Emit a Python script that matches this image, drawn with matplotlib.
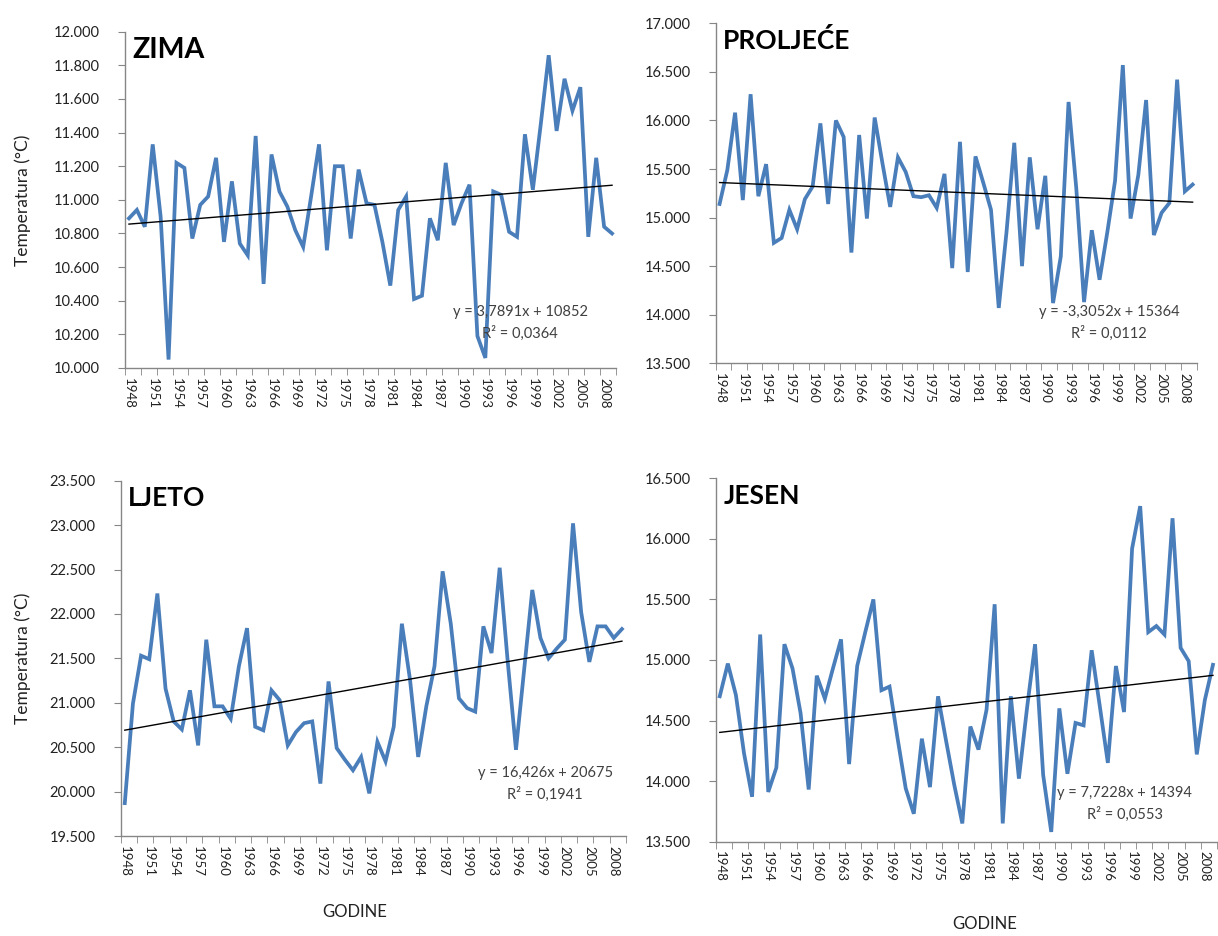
import numpy as np
import matplotlib
matplotlib.use("Agg")
import matplotlib.pyplot as plt
from matplotlib.ticker import FixedLocator, FuncFormatter

plt.rcParams['font.family'] = ['Lato', 'DejaVu Sans']

# ── data (seasonal mean temperature, °C) ─────────────────────────────────────
years = list(range(1948, 2010))

zima = [10.89, 10.94, 10.84, 11.33, 10.90, 10.05, 11.22, 11.19, 10.77, 10.97,
        11.02, 11.25, 10.75, 11.11, 10.74, 10.67, 11.38, 10.50, 11.27, 11.05,
        10.96, 10.82, 10.72, 11.02, 11.33, 10.70, 11.20, 11.20, 10.77, 11.18,
        10.98, 10.97, 10.75, 10.49, 10.94, 11.02, 10.41, 10.43, 10.89, 10.76,
        11.22, 10.85, 10.98, 11.09, 10.19, 10.06, 11.05, 11.03, 10.81, 10.78,
        11.39, 11.06, 11.45, 11.86, 11.41, 11.72, 11.53, 11.67, 10.78, 11.25,
        10.84, 10.80]

proljece = [15.14, 15.49, 16.08, 15.18, 16.27, 15.22, 15.55, 14.74, 14.79, 15.08,
            14.88, 15.19, 15.32, 15.97, 15.14, 16.00, 15.83, 14.64, 15.85, 14.99,
            16.03, 15.56, 15.11, 15.62, 15.47, 15.22, 15.21, 15.23, 15.10, 15.45,
            14.48, 15.78, 14.44, 15.63, 15.36, 15.08, 14.07, 14.85, 15.77, 14.50,
            15.62, 14.88, 15.43, 14.12, 14.60, 16.19, 15.30, 14.13, 14.87, 14.36,
            14.85, 15.38, 16.57, 14.99, 15.44, 16.21, 14.82, 15.05, 15.15, 16.42,
            15.27, 15.34]

ljeto = [19.87, 20.99, 21.53, 21.49, 22.23, 21.16, 20.79, 20.70, 21.14, 20.52,
         21.71, 20.96, 20.96, 20.82, 21.41, 21.84, 20.73, 20.69, 21.14, 21.03,
         20.52, 20.67, 20.77, 20.79, 20.09, 21.24, 20.49, 20.36, 20.24, 20.39,
         19.98, 20.56, 20.34, 20.73, 21.89, 21.26, 20.39, 20.96, 21.41, 22.48,
         21.89, 21.05, 20.94, 20.90, 21.86, 21.56, 22.52, 21.45, 20.47, 21.37,
         22.27, 21.73, 21.50, 21.61, 21.71, 23.02, 22.02, 21.46, 21.86, 21.86,
         21.73, 21.83]

jesen = [14.70, 14.97, 14.71, 14.23, 13.87, 15.21, 13.91, 14.11, 15.13, 14.93,
         14.56, 13.93, 14.87, 14.68, 14.93, 15.17, 14.14, 14.95, 15.23, 15.50,
         14.75, 14.78, 14.35, 13.94, 13.73, 14.35, 13.95, 14.70, 14.33, 13.97,
         13.65, 14.45, 14.26, 14.59, 15.46, 13.65, 14.70, 14.02, 14.60, 15.13,
         14.05, 13.58, 14.60, 14.06, 14.48, 14.46, 15.08, 14.62, 14.15, 14.95,
         14.57, 15.92, 16.27, 15.23, 15.28, 15.21, 16.17, 15.10, 14.99, 14.22,
         14.67, 14.96]

# Excel trendlines as printed on the chart (values in thousandths)
trend_slope = [3.7891, -3.3052, 16.426, 7.7228]
trend_icpt = [10852, 15364, 20675, 14394]
trend_text = ["y = 3,7891x + 10852\nR² = 0,0364",
              "y = -3,3052x + 15364\nR² = 0,0112",
              "y = 16,426x + 20675\nR² = 0,1941",
              "y = 7,7228x + 14394\nR² = 0,0553"]
titles = ["ZIMA", "PROLJEĆE", "LJETO", "JESEN"]
ylims = [(10.0, 12.0), (13.5, 17.0), (19.5, 23.5), (13.5, 16.5)]
ysteps = [0.2, 0.5, 0.5, 0.5]
series = [zima, proljece, ljeto, jesen]

# ── layout in pixels of the 1218x936 canvas ──────────────────────────────────
W, H = 1218, 936
boxes = [(125, 31.7, 616, 368),      # left, top, right, bottom
         (715.7, 23.3, 1196.5, 363.3),
         (120.7, 480.7, 626, 836),
         (715.7, 478.3, 1217, 841.6)]
title_size = [20.5, 19, 19, 19]
eq_pos = [(0.805, 0.135), (0.818, 0.118), (0.84, 0.146), (0.816, 0.103)]

fig = plt.figure(figsize=(W / 100, H / 100), dpi=100)
fig.patch.set_facecolor('white')

BLUE = '#4A7EBB'
GREY = '#868686'

for k in range(4):
    l, t, r, b = boxes[k]
    ax = fig.add_axes([l / W, 1 - b / H, (r - l) / W, (b - t) / H])
    vals = series[k]
    x = np.arange(len(vals))
    ax.plot(x, vals, color=BLUE, lw=2.7, solid_joinstyle='miter', zorder=3)

    # ── trendline from the printed equation ──
    xn = np.arange(1, len(vals) + 1)
    tr = (trend_icpt[k] + trend_slope[k] * xn) / 1000.0
    ax.plot(x, tr, color='black', lw=1.0, zorder=4)

    ax.set_xlim(-0.5, len(vals) - 0.5)
    ax.set_ylim(*ylims[k])
    lo, hi = ylims[k]
    ax.set_yticks(np.arange(lo, hi + 1e-6, ysteps[k]))
    ax.yaxis.set_major_formatter(FuncFormatter(lambda v, _: f"{v:.3f}"))

    # labels every 3 years, tick marks every 2 categories
    ax.set_xticks(x[::3])
    ax.set_xticklabels([str(years[i]) for i in x[::3]], rotation=-90,
                       fontsize=9.5, color='#222222')
    ax.xaxis.set_minor_locator(FixedLocator(np.arange(-0.5, len(vals), 2)))
    ax.tick_params(axis='x', which='major', length=0, pad=7)
    ax.tick_params(axis='x', which='minor', length=5, color=GREY, direction='out')
    ax.tick_params(axis='y', length=5, color=GREY, labelsize=10.5,
                   labelcolor='#222222', pad=13)

    for s in ['top', 'right']:
        ax.spines[s].set_visible(False)
    for s in ['left', 'bottom']:
        ax.spines[s].set_color(GREY)
        ax.spines[s].set_linewidth(1.0)

    ax.text(0.015, 0.985, titles[k], transform=ax.transAxes, ha='left', va='top',
            fontsize=title_size[k], fontweight='bold', color='black')
    ax.text(eq_pos[k][0], eq_pos[k][1], trend_text[k], transform=ax.transAxes,
            ha='center', va='center', fontsize=10.5, color='#404040',
            linespacing=1.55, zorder=5)

# axis titles
fig.text(23 / W, 1 - 200 / H, 'Temperatura (°C)', rotation=90, ha='center',
         va='center', fontsize=12.5, color='#222222')
fig.text(23 / W, 1 - 658 / H, 'Temperatura (°C)', rotation=90, ha='center',
         va='center', fontsize=12.5, color='#222222')
fig.text(355 / W, 1 - 912 / H, 'GODINE', ha='center', va='center',
         fontsize=12, color='#222222')
fig.text(985 / W, 1 - 924 / H, 'GODINE', ha='center', va='center',
         fontsize=12, color='#222222')

fig.savefig('out.png', dpi=100, facecolor='white')
